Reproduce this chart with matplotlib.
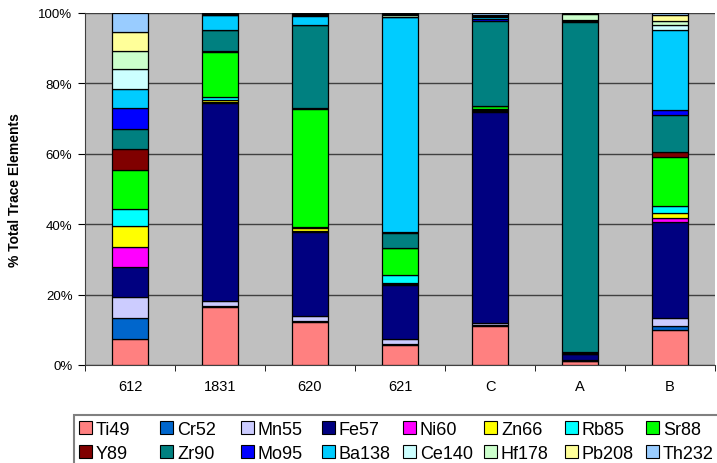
import numpy as np
import matplotlib.pyplot as plt
from matplotlib.patches import Patch, Rectangle

plt.rcParams['font.family'] = ['Liberation Sans', 'DejaVu Sans']

samples = ['612', '1831', '620', '621', 'C', 'A', 'B']
elements = ['Ti49', 'Cr52', 'Mn55', 'Fe57', 'Ni60', 'Zn66', 'Rb85', 'Sr88',
            'Y89', 'Zr90', 'Mo95', 'Ba138', 'Ce140', 'Hf178', 'Pb208', 'Th232']
colors = ['#FF8080', '#0066CC', '#CCCCFF', '#000080', '#FF00FF', '#FFFF00',
          '#00FFFF', '#00FF00', '#800000', '#008080', '#0000FF', '#00CCFF',
          '#CCFFFF', '#CCFFCC', '#FFFF99', '#99CCFF']

# percent of total trace elements, one list per element, in sample order
Ti49 = [7.3, 16.4, 12.1, 5.7, 11.1, 1.1, 10.0]
Cr52 = [6.0, 0.3, 0.3, 0.4, 0.4, 0.1, 1.2]
Mn55 = [5.9, 1.6, 1.4, 1.2, 0.5, 0.2, 2.1]
Fe57 = [8.6, 56.1, 23.9, 15.4, 59.9, 1.7, 27.2]
Ni60 = [5.7, 0.2, 0.3, 0.2, 0.2, 0.1, 1.3]
Zn66 = [5.9, 0.8, 0.8, 0.3, 0.3, 0.1, 1.4]
Rb85 = [4.8, 0.8, 0.4, 2.4, 0.2, 0.1, 2.0]
Sr88 = [11.2, 12.8, 33.6, 7.5, 0.9, 0.1, 14.0]
Y89 = [5.9, 0.1, 0.2, 0.1, 0.2, 0.1, 1.3]
Zr90 = [5.7, 6.0, 23.5, 4.3, 24.1, 94.0, 10.5]
Mo95 = [5.9, 0.1, 0.2, 0.3, 0.6, 0.1, 1.4]
Ba138 = [5.6, 4.2, 2.5, 61.0, 0.5, 0.3, 22.9]
Ce140 = [5.5, 0.1, 0.2, 0.2, 0.2, 0.2, 1.3]
Hf178 = [5.3, 0.1, 0.2, 0.3, 0.2, 1.6, 1.2]
Pb208 = [5.4, 0.2, 0.2, 0.5, 0.2, 0.2, 1.5]
Th232 = [5.3, 0.2, 0.2, 0.2, 0.5, 0.1, 0.7]

series = [Ti49, Cr52, Mn55, Fe57, Ni60, Zn66, Rb85, Sr88,
          Y89, Zr90, Mo95, Ba138, Ce140, Hf178, Pb208, Th232]

fig = plt.figure(figsize=(7.17, 4.64), dpi=100)
ax = fig.add_axes([85 / 717, 98 / 464, 630 / 717, 352 / 464])
ax.set_facecolor('#C0C0C0')

x = np.arange(len(samples))
data = np.array(series, dtype=float)
totals = data.sum(axis=0)
pct = data / totals * 100

bottom = np.zeros(len(samples))
for vals, col in zip(pct, colors):
    ax.bar(x, vals, 0.4, bottom=bottom, color=col, edgecolor='black',
           linewidth=0.9, zorder=3)
    bottom += vals

ax.set_xlim(-0.5, len(samples) - 0.5)
ax.set_ylim(0, 100)
ax.set_yticks(np.arange(0, 101, 20))
ax.set_yticklabels([f'{v}%' for v in range(0, 101, 20)], fontsize=9.5)
ax.set_xticks(x)
ax.set_xticklabels(samples, fontsize=10.5)
ax.set_xticks(np.arange(-0.5, len(samples), 1), minor=True)
ax.tick_params(axis='x', which='major', length=0, pad=10)
ax.tick_params(axis='x', which='minor', length=4, direction='out')
ax.tick_params(axis='y', length=5, direction='out', pad=4)
ax.yaxis.grid(True, color='#404040', linewidth=1, zorder=1)
ax.set_axisbelow(True)
for s in ['top', 'right']:
    ax.spines[s].set_visible(False)
ax.spines['left'].set_color('#404040')
ax.spines['bottom'].set_color('#404040')
ax.set_ylabel('% Total Trace Elements', fontsize=10, fontweight='bold', labelpad=12)

# legend box runs off the right and bottom edges, as in the original
fig.patches.append(Rectangle((74 / 717, -0.1), 1.0, 0.1 + 48 / 464,
                             transform=fig.transFigure, facecolor='white',
                             edgecolor='#808080', linewidth=1.5))

# one small legend per column so that the columns are evenly spaced
handles = [Patch(facecolor=c, edgecolor='black', linewidth=0.8) for c in colors]
for c in range(8):
    idx = [c, c + 8]
    fig.legend([handles[i] for i in idx], [elements[i] for i in idx],
               loc='upper left', bbox_to_anchor=((79 + 81 * c) / 717, 1 - 422 / 464),
               fontsize=13, frameon=False,
               handlelength=0.72, handleheight=0.72, handletextpad=0.22,
               labelspacing=0.4, borderpad=0, borderaxespad=0)

fig.savefig('out.png', dpi=100)
